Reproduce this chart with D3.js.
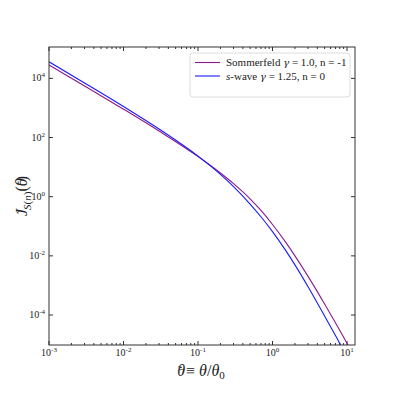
<!DOCTYPE html>
<meta charset="utf-8">
<style>
body { margin: 0; background: #fff; }
svg { font-family: "Liberation Serif", "DejaVu Serif", serif; }
.frame { fill: none; stroke: #333; stroke-width: 1; }
</style>
<body>
<svg width="395" height="395"></svg>
<script src="https://cdn.jsdelivr.net/npm/d3@7"></script>
<script>
// values
var theta = [0.001, 0.003, 0.01, 0.03, 0.1, 0.2, 0.3, 0.5, 0.7, 1, 1.5, 2, 3, 5, 7, 10, 13];
var jSommerfeld = [28200, 5546, 910, 166, 22.8, 6.31, 2.75, 0.847, 0.342, 0.115, 0.029, 0.0100, 0.00202, 2.36e-4, 5.47e-5, 1.12e-5, 3.43e-6];
var jSwave = [36400, 7000, 1122, 194, 23.6, 5.69, 2.19, 0.566, 0.210, 0.0658, 0.0153, 0.00497, 9.06e-4, 9.31e-5, 2.02e-5, 3.91e-6, 1.17e-6];
var xTickExp = [-3, -2, -1, 0, 1];
var yTickExp = [4, 2, 0, -2, -4];
var colors = ["#8b1a8b", "#1a1aff"];

var svg = d3.select("svg");
var pl = 49, pr = 355, pt = 47, pb = 345;

var x = d3.scaleLog().domain([1e-3, 12.8]).range([pl, pr]);
var y = d3.scaleLog().domain([0.97e-5, 1.15e5]).range([pb, pt]);

svg.append("clipPath").attr("id", "clip")
  .append("rect").attr("x", pl).attr("y", pt)
  .attr("width", pr - pl).attr("height", pb - pt);

// minor x ticks
var minorX = [];
for (var e = -3; e <= 1; e++) {
  for (var m = 2; m <= 9; m++) {
    var v = m * Math.pow(10, e);
    if (v <= 12.8) minorX.push(v);
  }
}

var ticks = svg.append("g").attr("stroke", "#333");
minorX.forEach(function(v) {
  ticks.append("line").attr("x1", x(v)).attr("x2", x(v)).attr("y1", pb).attr("y2", pb - 2);
  ticks.append("line").attr("x1", x(v)).attr("x2", x(v)).attr("y1", pt).attr("y2", pt + 2);
});
xTickExp.forEach(function(e) {
  var v = Math.pow(10, e);
  ticks.append("line").attr("x1", x(v)).attr("x2", x(v)).attr("y1", pb).attr("y2", pb - 4);
  ticks.append("line").attr("x1", x(v)).attr("x2", x(v)).attr("y1", pt).attr("y2", pt + 4);
  var t = svg.append("text").attr("x", x(v)).attr("y", pb + 11)
    .attr("text-anchor", "middle").style("font-size", "10px").attr("fill", "#222");
  t.append("tspan").text("10");
  t.append("tspan").attr("dy", -4).style("font-size", "7px").text(e < 0 ? "-" + (-e) : e);
});
yTickExp.forEach(function(e) {
  var v = Math.pow(10, e);
  ticks.append("line").attr("x1", pl).attr("x2", pl + 4).attr("y1", y(v)).attr("y2", y(v));
  ticks.append("line").attr("x1", pr).attr("x2", pr - 4).attr("y1", y(v)).attr("y2", y(v));
  var t = svg.append("text").attr("x", pl - 4).attr("y", y(v) + 3)
    .attr("text-anchor", "end").style("font-size", "10px").attr("fill", "#222");
  t.append("tspan").text("10");
  t.append("tspan").attr("dy", -4).style("font-size", "7px").text(e < 0 ? "-" + (-e) : e);
});

var line = d3.line()
  .x(function(d) { return x(d[0]); })
  .y(function(d) { return y(d[1]); })
  .curve(d3.curveMonotoneX);

[jSommerfeld, jSwave].forEach(function(s, i) {
  svg.append("path")
    .attr("clip-path", "url(#clip)")
    .attr("d", line(theta.map(function(t, k) { return [t, s[k]]; })))
    .attr("fill", "none")
    .attr("stroke", colors[i])
    .attr("stroke-width", 1.1);
});

svg.append("rect").attr("class", "frame")
  .attr("x", pl).attr("y", pt).attr("width", pr - pl).attr("height", pb - pt);

// legend
var lg = svg.append("g");
lg.append("rect").attr("x", 190).attr("y", 53).attr("width", 160).attr("height", 44)
  .attr("rx", 3).attr("fill", "#fff").attr("fill-opacity", 0.85).attr("stroke", "#ddd");
var rows = [
  [{t: "Sommerfeld "}, {t: "γ", i: true}, {t: " = 1.0, n = -1"}],
  [{t: "s", i: true}, {t: "-wave "}, {t: "γ", i: true}, {t: " = 1.25, n = 0"}]
];
rows.forEach(function(r, i) {
  var yy = 66 + i * 13.5;
  lg.append("line").attr("x1", 195).attr("x2", 220).attr("y1", yy - 3.5).attr("y2", yy - 3.5)
    .attr("stroke", colors[i]).attr("stroke-width", 1.1);
  var t = lg.append("text").attr("x", 226).attr("y", yy).style("font-size", "11px").attr("fill", "#222");
  r.forEach(function(p) {
    t.append("tspan").style("font-style", p.i ? "italic" : "normal")
      .style("font-family", p.t == "γ" ? "DejaVu Serif" : null)
      .style("font-size", p.t == "γ" ? "10px" : null).text(p.t);
  });
});

// axis labels (tilde drawn as a small glyph over the letter)
var xl = svg.append("text").attr("x", 201).attr("y", 376).attr("text-anchor", "middle")
  .style("font-size", "16px").attr("fill", "#222");
xl.append("tspan").style("font-style", "italic").text("θ");
xl.append("tspan").attr("dx", -7).attr("dy", -1).style("font-size", "12px").text("˜");
xl.append("tspan").attr("dy", 1).text(" ≡ ");
xl.append("tspan").style("font-style", "italic").text("θ");
xl.append("tspan").text("/");
xl.append("tspan").style("font-style", "italic").text("θ");
xl.append("tspan").attr("dy", 3).style("font-size", "11px").text("0");

var yl = svg.append("text").attr("transform", "translate(27,196) rotate(-90)").attr("text-anchor", "middle")
  .style("font-size", "16px").attr("fill", "#222");
yl.append("tspan").style("font-style", "italic").text("J");
yl.append("tspan").attr("dx", -5).attr("dy", -1).style("font-size", "12px").text("˜");
yl.append("tspan").attr("dy", 5).style("font-size", "11px").style("font-style", "italic").text("S");
yl.append("tspan").style("font-size", "11px").text("(");
yl.append("tspan").style("font-size", "11px").style("font-style", "italic").text("n");
yl.append("tspan").style("font-size", "11px").text(")");
yl.append("tspan").attr("dy", -4).text("(");
yl.append("tspan").style("font-style", "italic").text("θ");
yl.append("tspan").attr("dx", -7).attr("dy", -1).style("font-size", "12px").text("˜");
yl.append("tspan").attr("dy", 1).text(")");
</script>
</body>
